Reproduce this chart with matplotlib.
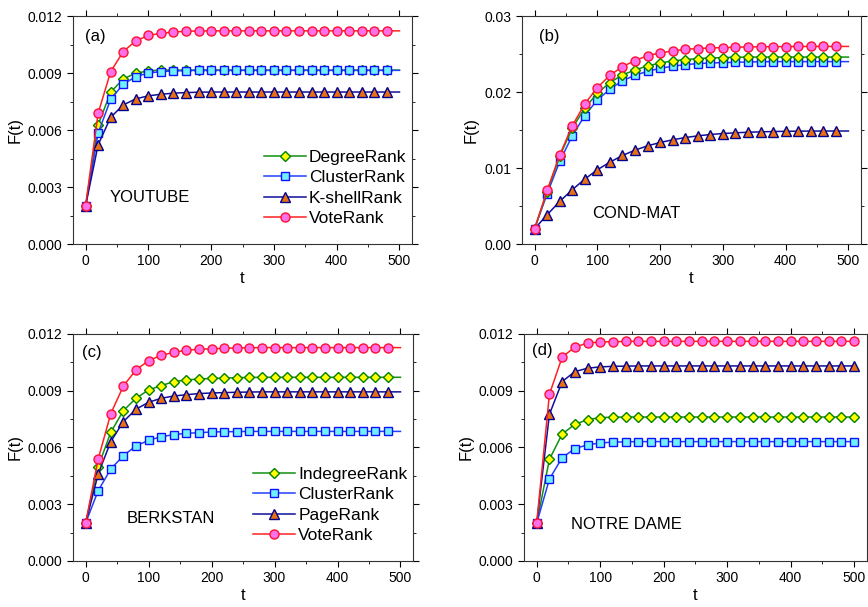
# Spreading curves F(t) for four networks
import matplotlib.pyplot as plt
from matplotlib.ticker import MultipleLocator

plt.rcParams["font.family"] = ["Liberation Sans", "DejaVu Sans"]

# time steps (markers every 20)
t = list(range(0, 501, 20))

# (a) YOUTUBE
yt_degree = [0.0020, 0.00627, 0.00799, 0.00869, 0.00899, 0.00911, 0.00916, 0.00915, 0.00915,
             0.00915, 0.00915, 0.00915, 0.00915, 0.00915, 0.00915, 0.00915, 0.00915, 0.00915,
             0.00915, 0.00915, 0.00915, 0.00915, 0.00915, 0.00915, 0.00915, 0.00915]
yt_cluster = [0.0020, 0.00583, 0.00762, 0.00841, 0.00881, 0.00900, 0.00907, 0.00911, 0.00913,
              0.00914, 0.00914, 0.00914, 0.00914, 0.00914, 0.00914, 0.00914, 0.00914, 0.00914,
              0.00914, 0.00914, 0.00914, 0.00914, 0.00914, 0.00914, 0.00914, 0.00914]
yt_kshell = [0.0020, 0.00522, 0.00667, 0.00732, 0.00764, 0.00780, 0.00788, 0.00794, 0.00797,
             0.00799, 0.00800, 0.00800, 0.00800, 0.00800, 0.00800, 0.00800, 0.00800, 0.00800,
             0.00800, 0.00800, 0.00800, 0.00800, 0.00800, 0.00800, 0.00800, 0.00800]
yt_vote = [0.0020, 0.00688, 0.00907, 0.01013, 0.01069, 0.01098, 0.01109, 0.01116, 0.01120,
           0.01121, 0.01122, 0.01122, 0.01122, 0.01122, 0.01122, 0.01122, 0.01122, 0.01122,
           0.01122, 0.01122, 0.01122, 0.01122, 0.01122, 0.01122, 0.01122, 0.01122]

# (b) COND-MAT
cm_degree = [0.0020, 0.00690, 0.01152, 0.01524, 0.01787, 0.01984, 0.02124, 0.02225, 0.02290,
             0.02343, 0.02382, 0.02409, 0.02426, 0.02440, 0.02448, 0.02453, 0.02457, 0.02459,
             0.02460, 0.02460, 0.02460, 0.02460, 0.02460, 0.02460, 0.02460, 0.02460]
cm_cluster = [0.0020, 0.00661, 0.01086, 0.01423, 0.01691, 0.01896, 0.02036, 0.02150, 0.02220,
              0.02273, 0.02312, 0.02339, 0.02360, 0.02374, 0.02382, 0.02387, 0.02391, 0.02395,
              0.02398, 0.02400, 0.02400, 0.02400, 0.02400, 0.02400, 0.02400, 0.02400]
cm_kshell = [0.0020, 0.00385, 0.00560, 0.00714, 0.00854, 0.00977, 0.01077, 0.01165, 0.01235,
             0.01292, 0.01336, 0.01371, 0.01401, 0.01423, 0.01441, 0.01454, 0.01463, 0.01471,
             0.01476, 0.01480, 0.01483, 0.01485, 0.01486, 0.01487, 0.01487, 0.01487]
cm_vote = [0.0020, 0.00705, 0.01170, 0.01555, 0.01844, 0.02058, 0.02220, 0.02334, 0.02413,
           0.02479, 0.02514, 0.02540, 0.02562, 0.02571, 0.02580, 0.02584, 0.02590, 0.02593,
           0.02595, 0.02597, 0.02598, 0.02599, 0.02600, 0.02600, 0.02600, 0.02600]

# (c) BERKSTAN
bs_indegree = [0.0020, 0.00499, 0.00680, 0.00795, 0.00860, 0.00904, 0.00927, 0.00948, 0.00957,
               0.00962, 0.00965, 0.00967, 0.00969, 0.00970, 0.00971, 0.00971, 0.00971, 0.00971,
               0.00971, 0.00971, 0.00971, 0.00971, 0.00971, 0.00971, 0.00971, 0.00971]
bs_cluster = [0.0020, 0.00372, 0.00486, 0.00557, 0.00608, 0.00638, 0.00657, 0.00668, 0.00675,
              0.00678, 0.00682, 0.00683, 0.00684, 0.00685, 0.00685, 0.00685, 0.00685, 0.00685,
              0.00685, 0.00685, 0.00685, 0.00685, 0.00685, 0.00685, 0.00685, 0.00685]
bs_page = [0.0020, 0.00460, 0.00631, 0.00737, 0.00802, 0.00839, 0.00860, 0.00872, 0.00879,
           0.00885, 0.00888, 0.00890, 0.00892, 0.00893, 0.00894, 0.00894, 0.00894, 0.00894,
           0.00894, 0.00894, 0.00894, 0.00894, 0.00894, 0.00894, 0.00894, 0.00894]
bs_vote = [0.0020, 0.00539, 0.00779, 0.00925, 0.01010, 0.01059, 0.01087, 0.01103, 0.01114,
           0.01119, 0.01122, 0.01124, 0.01126, 0.01127, 0.01128, 0.01128, 0.01128, 0.01128,
           0.01128, 0.01128, 0.01128, 0.01128, 0.01128, 0.01128, 0.01128, 0.01128]

# (d) NOTRE DAME
nd_indegree = [0.0020, 0.00537, 0.00671, 0.00722, 0.00747, 0.00758, 0.00760, 0.00761, 0.00761,
               0.00761, 0.00761, 0.00761, 0.00761, 0.00761, 0.00761, 0.00761, 0.00761, 0.00761,
               0.00761, 0.00761, 0.00761, 0.00761, 0.00761, 0.00761, 0.00761, 0.00761]
nd_cluster = [0.0020, 0.00433, 0.00546, 0.00594, 0.00614, 0.00624, 0.00628, 0.00630, 0.00631,
              0.00631, 0.00631, 0.00631, 0.00631, 0.00631, 0.00631, 0.00631, 0.00631, 0.00631,
              0.00631, 0.00631, 0.00631, 0.00631, 0.00631, 0.00631, 0.00631, 0.00631]
nd_page = [0.0020, 0.00775, 0.00948, 0.01001, 0.01019, 0.01026, 0.01029, 0.01030, 0.01031,
           0.01031, 0.01031, 0.01031, 0.01031, 0.01031, 0.01031, 0.01031, 0.01031, 0.01031,
           0.01031, 0.01031, 0.01031, 0.01031, 0.01031, 0.01031, 0.01031, 0.01031]
nd_vote = [0.0020, 0.00881, 0.01077, 0.01131, 0.01151, 0.01158, 0.01159, 0.01161, 0.01161,
           0.01161, 0.01161, 0.01161, 0.01161, 0.01161, 0.01161, 0.01161, 0.01161, 0.01161,
           0.01161, 0.01161, 0.01161, 0.01161, 0.01161, 0.01161, 0.01161, 0.01161]

# marker styles per method type
styles = {
    "degree": dict(color="#109010", marker="D", markersize=5.5, mfc="#ffff00", mec="#008000"),
    "cluster": dict(color="#2040ff", marker="s", markersize=5.5, mfc="#70f0ff", mec="#1010ff"),
    "page": dict(color="#10109a", marker="^", markersize=7, mfc="#e87010", mec="#000090"),
    "vote": dict(color="#ff2020", marker="o", markersize=6.5, mfc="#ff70e8", mec="#ff1030"),
}

fig = plt.figure(figsize=(8.68, 6.07), dpi=100)
ax_a = fig.add_axes([0.0841, 0.598, 0.3906, 0.3756])
ax_b = fig.add_axes([0.6014, 0.598, 0.3905, 0.3756])
ax_c = fig.add_axes([0.0841, 0.0758, 0.3918, 0.374])
ax_d = fig.add_axes([0.6037, 0.0758, 0.3950, 0.374])

panels = [
    (ax_a, "(a)", (0.035, 0.945), "YOUTUBE", (0.109, 0.184), 0.012, 0.003, 0.0015, slice(0, 25),
     [(yt_degree, "degree", "DegreeRank"), (yt_cluster, "cluster", "ClusterRank"),
      (yt_kshell, "page", "K-shellRank"), (yt_vote, "vote", "VoteRank")], True),
    (ax_b, "(b)", (0.05, 0.945), "COND-MAT", (0.207, 0.114), 0.03, 0.01, 0.005, slice(0, 25),
     [(cm_kshell, "page", "K-shellRank"), (cm_cluster, "cluster", "ClusterRank"),
      (cm_degree, "degree", "DegreeRank"), (cm_vote, "vote", "VoteRank")], False),
    (ax_c, "(c)", (0.026, 0.952), "BERKSTAN", (0.159, 0.167), 0.012, 0.003, 0.0015, slice(0, 25),
     [(bs_indegree, "degree", "IndegreeRank"), (bs_cluster, "cluster", "ClusterRank"),
      (bs_page, "page", "PageRank"), (bs_vote, "vote", "VoteRank")], True),
    (ax_d, "(d)", (0.023, 0.96), "NOTRE DAME", (0.137, 0.141), 0.012, 0.003, 0.0015, slice(0, 26),
     [(nd_indegree, "degree", "IndegreeRank"), (nd_cluster, "cluster", "ClusterRank"),
      (nd_page, "page", "PageRank"), (nd_vote, "vote", "VoteRank")], False),
]

for ax, tag, tag_pos, name, pos, ymax, ystep, yminor, every, series, show_legend in panels:
    handles = {}
    for values, kind, label in series:
        line, = ax.plot(t, values, lw=1.1, markevery=every, label=label, **styles[kind])
        handles[label] = line
    ax.set_xlim(-20, 520)
    ax.set_ylim(0, ymax)
    for spine in ax.spines.values():
        spine.set_color("#333333")
    ax.xaxis.set_major_locator(MultipleLocator(100))
    ax.xaxis.set_minor_locator(MultipleLocator(50))
    ax.yaxis.set_major_locator(MultipleLocator(ystep))
    ax.yaxis.set_minor_locator(MultipleLocator(yminor))
    if ymax == 0.03:
        ax.yaxis.set_major_formatter(plt.FuncFormatter(lambda v, p: f"{v:.2f}"))
    else:
        ax.yaxis.set_major_formatter(plt.FuncFormatter(lambda v, p: f"{v:.3f}"))
    ax.tick_params(which="major", direction="out", length=4, labelsize=10)
    ax.tick_params(which="minor", direction="out", length=2.5)
    ax.tick_params(which="both", top=True, right=True)
    ax.set_xlabel("t", fontsize=12, labelpad=2)
    ax.set_ylabel("F(t)", fontsize=12, labelpad=4)
    ax.text(tag_pos[0], tag_pos[1], tag, transform=ax.transAxes, fontsize=12, va="top")
    ax.text(pos[0], pos[1], name, transform=ax.transAxes, fontsize=12, va="baseline")
    if show_legend:
        order = [series[0][2], series[1][2], series[2][2], series[3][2]]
        ax.legend([handles[k] for k in order], order, loc="lower right", frameon=False,
                  fontsize=12.5, handlelength=2.4, handletextpad=0.2, labelspacing=0.3,
                  bbox_to_anchor=(1.03, 0.01))

fig.savefig("out.png", dpi=100)
